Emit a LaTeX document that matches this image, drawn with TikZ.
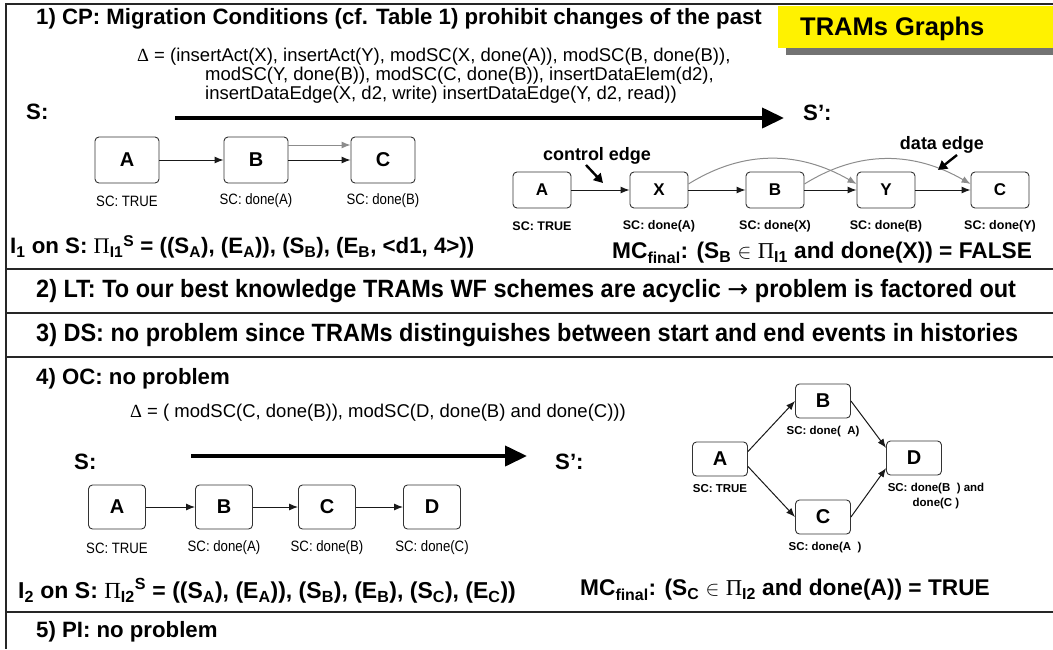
\documentclass[tikz,border=0pt]{standalone}
\usepackage{fontspec}
\setmainfont{Liberation Sans}
\newfontfamily\serifgreek{Liberation Serif}
\newfontfamily\arrowfont{DejaVu Sans}
\newfontfamily\narrowsans[FakeStretch=0.94]{Liberation Sans}
\newfontfamily\scnarrow[FakeStretch=0.88]{Liberation Sans}
\usetikzlibrary{positioning,arrows.meta}

\newcommand{\fsz}[1]{\fontsize{#1}{#1}\selectfont}
\newcommand{\Dl}{{\serifgreek\mdseries Δ}}
\newcommand{\Pl}{{\serifgreek\mdseries Π}}
\newcommand{\subtx}[1]{\textsubscript{#1}}
\newcommand{\suptx}[1]{\textsuperscript{#1}}

\begin{document}
\begin{tikzpicture}[x=1pt,y=-1pt,
    frame/.style={line width=1.6pt,black!85},
    head/.style={anchor=west,inner sep=0pt,font=\fsz{22.2}\bfseries},
    formula/.style={anchor=west,inner sep=0pt,font=\fsz{22.7}\bfseries},
    wide/.style={anchor=west,inner sep=0pt,font=\fsz{25}\narrowsans\bfseries},
    delta/.style={anchor=west,inner sep=0pt,font=\fsz{18.5}},
    act/.style={draw=black!80,line width=0.9pt,rounded corners=4pt,inner sep=0pt,
      minimum width=64pt,minimum height=46pt,font=\fsz{20}\bfseries},
    actsmall/.style={act,minimum width=58pt,minimum height=36pt,font=\fsz{17}\bfseries},
    actmid/.style={act,minimum width=57pt,minimum height=44pt},
    actdia/.style={act,minimum width=55pt,minimum height=34pt},
    sc/.style={inner sep=0pt,font=\fsz{15}\scnarrow},
    scbold/.style={inner sep=0pt,font=\fsz{12.5}\bfseries},
    scdia/.style={inner sep=0pt,align=center,font=\fontsize{11.5}{15}\selectfont\bfseries},
    flow/.style={-{Latex[length=9pt,width=7pt]},line width=1pt,black!90},
    dflow/.style={flow,black!45},
    bigflow/.style={-{Triangle[length=22pt,width=20pt]},line width=4pt},
    hint/.style={-{Triangle[length=9pt,width=10pt]},line width=2.4pt},
  ]
  \useasboundingbox (0,0) rectangle (1053,649);

  % frame
  \draw[frame] (1053,4) -- (6,4) -- (6,649);
  \draw[frame] (6,269) -- (1053,269);
  \draw[frame] (6,313) -- (1053,313);
  \draw[frame] (6,357) -- (1053,357);
  \draw[frame] (6,612) -- (1053,612);

  % title box
  \fill[black!55] (786,47) rectangle (1053,55);
  \fill[yellow] (778,5.5) rectangle (1053,48);
  \node[anchor=west,inner sep=0pt,font=\fsz{25.5}\bfseries] (title) at (800,29) {TRAMs Graphs};

  % 1) CP
  \node[head] (cp) at (36,19) {1) CP: Migration Conditions (cf. Table 1) prohibit changes of the past};
  \node[delta] (d1) at (137,57) {\Dl{} = (insertAct(X), insertAct(Y), modSC(X, done(A)), modSC(B, done(B)),};
  \node[delta] (d2) at (205,76) {modSC(Y, done(B)), modSC(C, done(B)), insertDataElem(d2),};
  \node[delta] (d3) at (205,95) {insertDataEdge(X, d2, write) insertDataEdge(Y, d2, read))};
  \node[head] (s1) at (26,112) {S:};
  \node[head] (s1p) at (803,113) {S’:};
  \coordinate (m1) at (175,118);
  \coordinate (m2) at (784,118);
  \draw[bigflow] (m1) -- (m2);

  \node[act] (a1) at (127,160) {A};
  \node[act] (b1) at (256,160) {B};
  \node[act] (c1) at (383,160) {C};
  \node[sc] at (127,201) {SC: TRUE};
  \node[sc] at (256,201) {SC: done(A)};
  \node[sc] at (383,201) {SC: done(B)};
  \draw[flow] (a1) -- (b1);
  \draw[flow] (b1) -- (c1);
  \draw[dflow] ([yshift=15pt]b1.east) -- ([yshift=15pt]c1.west);

  \node[actsmall] (a2) at (542,190) {A};
  \node[actsmall] (x2) at (659,190) {X};
  \node[actsmall] (b2) at (775,190) {B};
  \node[actsmall] (y2) at (886,190) {Y};
  \node[actsmall] (c2) at (1000,190) {C};
  \node[scbold] at (542,226) {SC: TRUE};
  \node[scbold] at (659,226) {SC: done(A)};
  \node[scbold] at (775,226) {SC: done(X)};
  \node[scbold] at (886,226) {SC: done(B)};
  \node[scbold] at (1000,226) {SC: done(Y)};
  \draw[flow] (a2) -- (x2);
  \draw[flow] (x2) -- (b2);
  \draw[flow] (b2) -- (y2);
  \draw[flow] (y2) -- (c2);
  \draw[dflow] ([yshift=6pt]x2.east) to[out=32,in=150] ([yshift=6pt]y2.west);
  \draw[dflow] ([yshift=6pt]b2.east) to[out=32,in=150] ([yshift=6pt]c2.west);

  \node[inner sep=0pt,font=\fsz{18}\bfseries] (ctrl) at (597,156) {control edge};
  \coordinate (ct) at (586,165);
  \draw[hint] (ct) -- (603,183);
  \node[inner sep=0pt,font=\fsz{18}\bfseries] (data) at (942,145) {data edge};
  \coordinate (dt) at (957,155);
  \draw[hint] (dt) -- (938,170);

  \node[formula,font=\fsz{22.3}\bfseries] (i1) at (10,247) {I\subtx{1} on S: \Pl\subtx{I1}\suptx{S} = ((S\subtx{A}), (E\subtx{A})), (S\subtx{B}), (E\subtx{B}, <d1, 4>))};
  \node[formula] (mc1) at (612,253) {MC\subtx{final}: (S\subtx{B} $\in$ \Pl\subtx{I1} and done(X)) = FALSE};

  % 2) LT and 3) DS
  \node[wide] (lt) at (36,291) {2) LT: To our best knowledge TRAMs WF schemes are acyclic {\arrowfont\mdseries →} problem is factored out};
  \node[wide] (ds) at (36,335) {3) DS: no problem since TRAMs distinguishes between start and end events in histories};

  % 4) OC
  \node[head] (oc) at (36,379) {4) OC: no problem};
  \node[delta] (d4) at (130,413) {\Dl{} = ( modSC(C, done(B)), modSC(D, done(B) and done(C)))};
  \node[head] (s4) at (74,462) {S:};
  \node[head] (s4p) at (555,462) {S’:};
  \coordinate (m3) at (191,456);
  \coordinate (m4) at (527,456);
  \draw[bigflow] (m3) -- (m4);

  \node[actmid] (a4) at (117,507) {A};
  \node[actmid] (b4) at (224,507) {B};
  \node[actmid] (c4) at (327,507) {C};
  \node[actmid] (e4) at (432,507) {D};
  \node[sc] at (117,548) {SC: TRUE};
  \node[sc] at (224,548) {SC: done(A)};
  \node[sc] at (327,548) {SC: done(B)};
  \node[sc] at (432,548) {SC: done(C)};
  \draw[flow] (a4) -- (b4);
  \draw[flow] (b4) -- (c4);
  \draw[flow] (c4) -- (e4);

  \node[actdia] (a5) at (720,459) {A};
  \node[actdia] (b5) at (823,401) {B};
  \node[actdia] (c5) at (823,517) {C};
  \node[actdia] (e5) at (914,458) {D};
  \node[scdia] at (720,489) {SC: TRUE};
  \node[scdia] at (823,432) {SC: done(\ \ A)};
  \node[scdia] at (825,548) {SC: done(A\ \ )};
  \node[scdia] at (936,496) {SC: done(B\ \ ) and\\done(C )};
  \draw[flow] (a5.15) -- (b5.west);
  \draw[flow] (a5.-15) -- (c5.west);
  \draw[flow] (b5.east) -- (e5.160);
  \draw[flow] (c5.east) -- (e5.200);

  \node[formula,font=\fsz{23}\bfseries] (i2) at (18,591) {I\subtx{2} on S: \Pl\subtx{I2}\suptx{S} = ((S\subtx{A}), (E\subtx{A})), (S\subtx{B}), (E\subtx{B}), (S\subtx{C}), (E\subtx{C}))};
  \node[formula] (mc2) at (580,590) {MC\subtx{final}: (S\subtx{C} $\in$ \Pl\subtx{I2} and done(A)) = TRUE};

  % 5) PI
  \node[head] (pi) at (36,632) {5) PI: no problem};
\end{tikzpicture}
\end{document}
